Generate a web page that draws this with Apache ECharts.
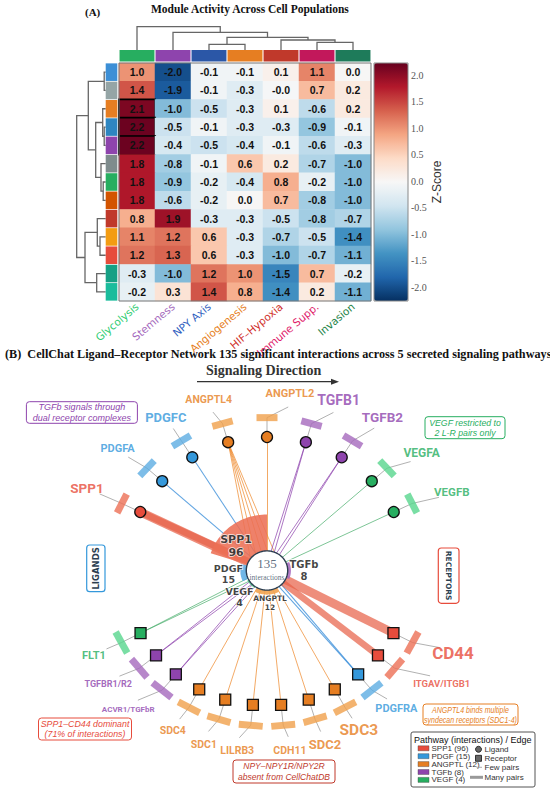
<!DOCTYPE html>
<html>
<head>
<meta charset="utf-8">
<script src="https://cdn.jsdelivr.net/npm/echarts@6.0.0/dist/echarts.min.js"></script>
<style>
html,body{margin:0;padding:0;background:#ffffff;}
#chart{width:550px;height:792px;}
</style>
</head>
<body>
<div id="chart"></div>
<script>
// ================= DATA =================
const modules = ['Glycolysis','Stemness','NPY Axis','Angiogenesis','HIF\u2013Hypoxia','Immune Supp.','Invasion'];
// z-scores, one row per cell population (top to bottom)
const zScores = [
  [ 1.0,-2.0,-0.1,-0.1, 0.1, 1.1, 0.0],
  [ 1.4,-1.9,-0.1,-0.3,-0.04,0.7, 0.2],
  [ 2.1,-1.0,-0.5,-0.3, 0.1,-0.6, 0.2],
  [ 2.2,-0.5,-0.1,-0.3,-0.3,-0.9,-0.1],
  [ 2.2,-0.4,-0.5,-0.4,-0.1,-0.6,-0.3],
  [ 1.8,-0.8,-0.1, 0.6, 0.2,-0.7,-1.0],
  [ 1.8,-0.9,-0.2,-0.4, 0.8,-0.2,-1.0],
  [ 1.8,-0.6,-0.2, 0.0, 0.7,-0.8,-1.0],
  [ 0.8, 1.9,-0.3,-0.3,-0.5,-0.8,-0.7],
  [ 1.1, 1.2, 0.6,-0.3,-0.7,-0.5,-1.4],
  [ 1.2, 1.3, 0.6,-0.3,-1.0,-0.7,-1.1],
  [-0.3,-1.0, 1.2, 1.0,-1.5, 0.7,-0.2],
  [-0.2, 0.3, 1.4, 0.8,-1.4, 0.2,-1.1]
];
// hierarchical clustering linkages: [childA, childB, height]
const colLinkage = [[2,3,5.7],[5,6,7.7],[4,8,10],[7,9,12.7],[1,10,17.7],[0,11,23.3]];
const rowLinkage = [[0,1,1.5],[3,4,1.5],[2,14,3],[6,7,2.5],[5,16,4.7],[15,17,10],[13,18,17.4],
                    [9,10,5.7],[8,20,8.4],[11,12,9],[21,22,20.7],[19,23,29]];
const zTicks = [-2.0,-1.5,-1.0,-0.5,0.0,0.5,1.0,1.5,2.0];

const pathways = ['SPP1','PDGF','ANGPTL','TGFb','VEGF'];
const pathwayInteractions = [96,15,12,8,4];
const totalInteractions = 135;
const ligands = ['SPP1','PDGFA','PDGFC','ANGPTL4','ANGPTL2','TGFB1','TGFB2','VEGFA','VEGFB'];
const ligandPathway = ['SPP1','PDGF','PDGF','ANGPTL','ANGPTL','TGFb','TGFb','VEGF','VEGF'];
const receptors = ['FLT1','TGFBR1/R2','ACVR1/TGFbR','SDC4','SDC1','LILRB3','CDH11','SDC2','SDC3','PDGFRA','ITGAV/ITGB1','CD44'];
const receptorPathway = ['VEGF','TGFb','TGFb','ANGPTL','ANGPTL','ANGPTL','ANGPTL','ANGPTL','ANGPTL','PDGF','SPP1','SPP1'];
const lrPairs = [
  ['SPP1','CD44',52],['SPP1','ITGAV/ITGB1',44],
  ['PDGFA','PDGFRA',8],['PDGFC','PDGFRA',7],
  ['ANGPTL4','SDC1',2],['ANGPTL4','SDC2',2],['ANGPTL4','SDC3',2],['ANGPTL4','SDC4',2],['ANGPTL4','CDH11',1],
  ['ANGPTL2','LILRB3',3],
  ['TGFB1','TGFBR1/R2',2],['TGFB1','ACVR1/TGFbR',2],['TGFB2','TGFBR1/R2',2],['TGFB2','ACVR1/TGFbR',2],
  ['VEGFA','FLT1',2],['VEGFB','FLT1',2]
];

// ================= STYLE / LAYOUT =================
const rdbu = ['#053061','#2166ac','#4393c3','#92c5de','#d1e5f0','#f7f7f7','#fddbc7','#f4a582','#d6604d','#b2182b','#67001f'];
const colBarColors = ['#27ae60','#8e44ad','#2b57a7','#e67e22','#c0392b','#c2185b','#1e7b5a'];
const colLabelColors = ['#2ecc71','#a569bd','#3060c0','#e67e22','#d0302a','#e0206a','#1e8449'];
const rowStripColors = ['#3c8fd6','#95a5a6','#e67e22','#2e86c1','#8e44ad','#7f8c8d','#27ae60','#d35400','#c0392b','#f39c12','#e74c3c','#16a085','#1abc9c'];
const pathColor = {SPP1:'#e74c3c', PDGF:'#3498db', ANGPTL:'#e67e22', TGFb:'#8e44ad', VEGF:'#27ae60'};
const edgeColor = {SPP1:'#e8624a', PDGF:'#3b8fd9', ANGPTL:'#ee8a2e', TGFb:'#8e44ad', VEGF:'#4caf6e'};
const wedgeColor = {SPP1:'#ec6f55', PDGF:'#5dade2', ANGPTL:'#f0a04b', TGFb:'#a569bd', VEGF:'#58d68d'};
const wedgeSpan = {SPP1:[90,162], PDGF:[165,205], VEGF:[208,236], ANGPTL:[242,298], TGFb:[338,382]};
const hubLabelPos = {SPP1:[140.4,0.285], PDGF:[185.2,0.275], TGFb:[0,0.262], VEGF:[225.8,0.28], ANGPTL:[275,0.245]};
const hubLabelSize = {SPP1:11, PDGF:9.5, TGFb:10, VEGF:9.5, ANGPTL:7.5};
const ligLabelPos = [[154.2,1.418],[139.2,1.40],[122,1.354],[107.9,1.347],[83,1.334],[68.3,1.374],[54.5,1.41],[38.7,1.405],[24.2,1.437]];
const recLabelPos = [[207.3,1.381],[217.1,1.412],[226.7,1.435],[240.9,1.374],[251,1.375],[261.1,1.368],[276.9,1.355],[287.5,1.365],[298.6,1.361],[311.5,1.385],[325.7,1.5],[334.8,1.458]];
const ligLabelSize = [13.5,11,13,10.5,11,14,13.5,12,11.5];
const recLabelSize = [11,9,8,10.5,10.5,10.5,10.5,13,15.5,11,9.5,17];
const HUB_R = 0.147, LIG_R = 1.0, REC_R = 1.012, LIG_DASH_R = 1.145, REC_DASH_R = 1.165;
const ligAngle = i => 154 - 16 * i;
const recAngle = i => 207.6 + 11.345 * i;
const labelFont = 'Roboto, "Liberation Sans", sans-serif';

function pt(a, r) { const t = a * Math.PI / 180; return [r * Math.cos(t), r * Math.sin(t)]; }

// ---------- heatmap ----------
const heatData = [];
zScores.forEach((row, r) => row.forEach((v, c) => {
  const item = { value: [c, r, v] };
  if (v > 2.05) item.itemStyle = { borderColor: '#000', borderWidth: 1.6 };
  heatData.push(item);
}));

// ---------- dendrograms ----------
function dendroLines(linkage, n, swap) {
  const pos = [], ht = [];
  for (let i = 0; i < n; i++) { pos[i] = i + 0.5; ht[i] = 0; }
  const out = [];
  linkage.forEach((l, k) => {
    const [a, b, h] = l; const id = n + k;
    pos[id] = (pos[a] + pos[b]) / 2; ht[id] = h;
    let pts = [[pos[a], ht[a]], [pos[a], h], [pos[b], h], [pos[b], ht[b]]];
    if (swap) pts = pts.map(p => [p[1], p[0]]);
    out.push({ coords: pts });
  });
  return out;
}

// ---------- network ----------
const nodePoint = {}, nodePath = {};
ligands.forEach((n, i) => { nodePoint[n] = pt(ligAngle(i), LIG_R); nodePath[n] = ligandPathway[i]; });
receptors.forEach((n, i) => { nodePoint[n] = pt(recAngle(i), REC_R); nodePath[n] = receptorPathway[i]; });

const widthOf = c => 0.9 + 0.0029 * c * c;
const edgeData = [];
function addEdges(nodeName, list) {
  const n = list.length;
  const p = nodePoint[nodeName];
  const len = Math.hypot(p[0], p[1]);
  const dir = [-p[0] / len, -p[1] / len];
  const perp = [-dir[1], dir[0]];
  const maxW = Math.max(...list.map(e => e[2]));
  const sp = maxW > 20 ? 0.008 : (n > 2 ? 0.05 : 0.028);
  list.forEach((e, k) => {
    const off = (k - (n - 1) / 2) * sp;
    const target = [perp[0] * off, perp[1] * off];
    const path = nodePath[e[0]];
    const w = widthOf(e[2]);
    edgeData.push({ coords: [p, target], lineStyle: { width: w, color: edgeColor[path], opacity: w > 3 ? 0.72 : 0.8 } });
  });
}
ligands.forEach(l => addEdges(l, lrPairs.filter(p => p[0] === l)));
receptors.forEach(r => addEdges(r, lrPairs.filter(p => p[1] === r)));

const dashItems = [];
ligands.forEach((n, i) => dashItems.push({ ang: ligAngle(i), r: LIG_DASH_R, len: 21, thick: 7, color: wedgeColor[ligandPathway[i]] }));
receptors.forEach((n, i) => dashItems.push({ ang: recAngle(i), r: REC_DASH_R, len: 24, thick: 7, color: wedgeColor[receptorPathway[i]] }));

const connectorData = [];
ligands.forEach((n, i) => connectorData.push({ coords: [nodePoint[n], pt(ligAngle(i), LIG_DASH_R), pt(ligLabelPos[i][0], ligLabelPos[i][1] - 0.1)] }));
receptors.forEach((n, i) => connectorData.push({ coords: [nodePoint[n], pt(recAngle(i), REC_DASH_R), pt(recLabelPos[i][0], recLabelPos[i][1] - 0.1)] }));

const wedgeItems = pathways.map((p, i) => ({
  a0: wedgeSpan[p][0], a1: wedgeSpan[p][1], r0: HUB_R, r1: HUB_R + 0.00284 * pathwayInteractions[i],
  color: wedgeColor[p]
}));

const nodeData = [];
ligands.forEach((n, i) => nodeData.push({ value: nodePoint[n], symbol: 'circle', itemStyle: { color: pathColor[ligandPathway[i]] } }));
receptors.forEach((n, i) => nodeData.push({ value: nodePoint[n], symbol: 'rect', itemStyle: { color: pathColor[receptorPathway[i]] } }));

const nodeLabelData = [];
ligands.forEach((n, i) => nodeLabelData.push({ value: pt(ligLabelPos[i][0], ligLabelPos[i][1]), name: n,
  label: { fontSize: ligLabelSize[i], color: pathColor[ligandPathway[i]] } }));
receptors.forEach((n, i) => nodeLabelData.push({ value: pt(recLabelPos[i][0], recLabelPos[i][1]), name: n,
  label: { fontSize: recLabelSize[i], color: pathColor[receptorPathway[i]] } }));

// hub labels: pathway name and interaction count as two texts
const hubNameData = [], hubCountData = [];
pathways.forEach((p, i) => {
  const base = pt(hubLabelPos[p][0], hubLabelPos[p][1]);
  const s = hubLabelSize[p];
  const dy = (s * 0.58) / 133.5;
  hubNameData.push({ value: [base[0], base[1] + dy], name: p, label: { fontSize: s } });
  hubCountData.push({ value: [base[0], base[1] - dy], name: String(pathwayInteractions[i]), label: { fontSize: s } });
});

// ================= CHART =================
const chart = echarts.init(document.getElementById('chart'), null, { renderer: 'svg', width: 550, height: 792 });

function noteBox(x, y, w, h, lines, color, sx) {
  return { type: 'group', children: [
    { type: 'rect', z: 50, shape: { x: x, y: y, width: w, height: h, r: 3 }, style: { fill: '#fff', stroke: color, lineWidth: 1 } },
    { type: 'text', z: 51, x: x + w / 2, y: y + h / 2, scaleX: sx || 1, style: { text: lines.join('\n'), align: 'center', verticalAlign: 'middle',
      fill: color, fontSize: 9.5, fontStyle: 'italic', fontFamily: '"Liberation Sans", Arial, sans-serif', lineHeight: 10.5 } }
  ] };
}
function vBox(x, y, w, h, text, border, rot, fs) {
  return { type: 'group', children: [
    { type: 'rect', z: 50, shape: { x: x, y: y, width: w, height: h, r: 3 }, style: { fill: '#fff', stroke: border, lineWidth: 1.2 } },
    { type: 'text', z: 51, x: x + w / 2, y: y + h / 2, rotation: rot, style: { text: text, align: 'center', verticalAlign: 'middle',
      fill: '#2c3e50', fontSize: fs, fontWeight: 'bold', fontFamily: '"DejaVu Sans", sans-serif' } }
  ] };
}
const legendItems = pathways.map((p, i) => p + ' (' + pathwayInteractions[i] + ')');
const legendFont = '"Liberation Sans", Arial, sans-serif';
const legendChildren = [
  { type: 'rect', z: 50, shape: { x: 411, y: 732, width: 124, height: 55, r: 2 }, style: { fill: '#fff', stroke: '#555', lineWidth: 1 } },
  { type: 'text', z: 51, x: 414, y: 740, style: { text: 'Pathway (interactions) / Edge', verticalAlign: 'middle', fill: '#111', fontSize: 9, fontFamily: legendFont } }
];
legendItems.forEach((t, i) => {
  const y = 748.3 + i * 7.9;
  legendChildren.push({ type: 'rect', z: 51, shape: { x: 418, y: y - 2.5, width: 11, height: 5 }, style: { fill: pathColor[pathways[i]], stroke: '#444', lineWidth: 0.4 } });
  legendChildren.push({ type: 'text', z: 51, x: 431.5, y: y, style: { text: t, verticalAlign: 'middle', fill: '#333', fontSize: 8, fontFamily: legendFont } });
});
legendChildren.push(
  { type: 'circle', z: 51, shape: { cx: 478.5, cy: 749.3, r: 3 }, style: { fill: '#666', stroke: '#111', lineWidth: 0.8 } },
  { type: 'text', z: 51, x: 484.5, y: 749.3, style: { text: 'Ligand', verticalAlign: 'middle', fill: '#333', fontSize: 8, fontFamily: legendFont } },
  { type: 'rect', z: 51, shape: { x: 475.5, y: 755.3, width: 6, height: 6 }, style: { fill: '#666', stroke: '#111', lineWidth: 0.8 } },
  { type: 'text', z: 51, x: 484.5, y: 758.3, style: { text: 'Receptor', verticalAlign: 'middle', fill: '#333', fontSize: 8, fontFamily: legendFont } },
  { type: 'line', z: 51, shape: { x1: 476.5, y1: 767.3, x2: 482, y2: 767.3 }, style: { stroke: '#999', lineWidth: 0.8 } },
  { type: 'text', z: 51, x: 484.5, y: 767.3, style: { text: 'Few pairs', verticalAlign: 'middle', fill: '#333', fontSize: 8, fontFamily: legendFont } },
  { type: 'line', z: 51, shape: { x1: 470, y1: 777.3, x2: 483, y2: 777.3 }, style: { stroke: '#999', lineWidth: 3 } },
  { type: 'text', z: 51, x: 484.5, y: 777.3, style: { text: 'Many pairs', verticalAlign: 'middle', fill: '#333', fontSize: 8, fontFamily: legendFont } }
);

const serif = '"Liberation Serif", "Times New Roman", serif';
const option = {
  animation: false,
  backgroundColor: '#ffffff',
  title: [
    { text: '(A)', left: 85, top: 6, padding: 0, textStyle: { fontFamily: serif, fontWeight: 'bold', fontSize: 11, color: '#111' } },
    { text: 'Module Activity Across Cell Populations', left: 151, top: 3, padding: 0, textStyle: { fontFamily: serif, fontWeight: 'bold', fontSize: 11.5, color: '#111' } },
    { text: '(B)  CellChat Ligand\u2013Receptor Network 135 significant interactions across 5 secreted signaling pathways', left: 5, top: 348, padding: 0,
      textStyle: { fontFamily: serif, fontWeight: 'bold', fontSize: 12.2, color: '#111' } },
    { text: 'Signaling Direction', left: 206, top: 363, padding: 0, textStyle: { fontFamily: serif, fontWeight: 'bold', fontSize: 14, color: '#333' } }
  ],
  grid: [
    { left: 119, top: 63, width: 252, height: 238 },          // 0 heatmap
    { left: 119, top: 50, width: 252, height: 11.5 },         // 1 column strip
    { left: 105.7, top: 63, width: 11.6, height: 238 },       // 2 row strip
    { left: 119, top: 26, width: 252, height: 24 },           // 3 column dendrogram
    { left: 76, top: 63, width: 29.7, height: 238 },          // 4 row dendrogram
    { left: 374, top: 63, width: 34, height: 238 },           // 5 colorbar axis
    { left: 13.2, top: 356.9, width: 507.6, height: 427.2 }   // 6 network
  ],
  xAxis: [
    { gridIndex: 0, type: 'category', data: modules, axisLine: { show: false }, axisTick: { show: false }, splitLine: { show: false },
      axisLabel: { interval: 0, rotate: 40, margin: 4, fontSize: 10.5, fontFamily: '"DejaVu Sans", sans-serif', color: (v, i) => colLabelColors[i] } },
    { gridIndex: 1, type: 'category', data: modules, show: false },
    { gridIndex: 2, type: 'value', min: 0, max: 1, show: false },
    { gridIndex: 3, type: 'value', min: 0, max: 7, show: false },
    { gridIndex: 4, type: 'value', min: 0, max: 29.7, inverse: true, show: false },
    { gridIndex: 5, type: 'value', min: 0, max: 1, show: false },
    { gridIndex: 6, type: 'value', min: -1.8, max: 1.8, show: false }
  ],
  yAxis: [
    { gridIndex: 0, type: 'category', data: zScores.map((r, i) => String(i)), inverse: true, show: false },
    { gridIndex: 1, type: 'value', min: 0, max: 1, show: false },
    { gridIndex: 2, type: 'category', data: zScores.map((r, i) => String(i)), inverse: true, show: false },
    { gridIndex: 3, type: 'value', min: 0, max: 24, show: false },
    { gridIndex: 4, type: 'value', min: 0, max: 13, inverse: true, show: false },
    { gridIndex: 5, type: 'value', min: -2.26, max: 2.23, position: 'right', splitLine: { show: false },
      axisLine: { show: false },
      axisTick: { show: true, customValues: zTicks, length: 3, lineStyle: { color: '#666' } },
      axisLabel: { customValues: zTicks, formatter: v => v.toFixed(1), fontFamily: serif, fontSize: 10, color: '#555', margin: 3 },
      name: 'Z-Score', nameLocation: 'middle', nameRotate: 90, nameGap: 16,
      nameTextStyle: { fontFamily: '"Liberation Sans", Arial, sans-serif', fontSize: 12, color: '#333' } },
    { gridIndex: 6, type: 'value', min: -1.6, max: 1.6, show: false }
  ],
  visualMap: [{
    type: 'continuous', seriesIndex: 0, min: -2.26, max: 2.23, calculable: false, show: true, orient: 'vertical',
    left: 374, top: 63, itemWidth: 34, itemHeight: 238, padding: 0, hoverLink: false,
    inRange: { color: rdbu }
  }],
  series: [
    { type: 'heatmap', xAxisIndex: 0, yAxisIndex: 0, data: heatData, silent: true,
      label: { show: true, formatter: p => p.value[2].toFixed(1), fontSize: 10.5, fontWeight: 'bold', color: '#111', fontFamily: '"Liberation Sans", Arial, sans-serif' } },
    { type: 'bar', xAxisIndex: 1, yAxisIndex: 1, silent: true, barWidth: '97%',
      data: colBarColors.map(c => ({ value: 1, itemStyle: { color: c } })) },
    { type: 'bar', xAxisIndex: 2, yAxisIndex: 2, silent: true, barWidth: '96%',
      data: rowStripColors.map(c => ({ value: 1, itemStyle: { color: c } })) },
    { type: 'lines', coordinateSystem: 'cartesian2d', xAxisIndex: 3, yAxisIndex: 3, polyline: true, silent: true,
      lineStyle: { color: '#666', width: 1.3, opacity: 1 }, data: dendroLines(colLinkage, 7, false) },
    { type: 'lines', coordinateSystem: 'cartesian2d', xAxisIndex: 4, yAxisIndex: 4, polyline: true, silent: true,
      lineStyle: { color: '#666', width: 1.3, opacity: 1 }, data: dendroLines(rowLinkage, 13, true) },
    // network
    { type: 'lines', coordinateSystem: 'cartesian2d', xAxisIndex: 6, yAxisIndex: 6, silent: true, z: 1,
      lineStyle: { cap: 'butt' }, data: edgeData },
    { type: 'lines', coordinateSystem: 'cartesian2d', xAxisIndex: 6, yAxisIndex: 6, polyline: true, silent: true, z: 1,
      lineStyle: { color: '#a8a8a8', width: 0.9, opacity: 1 }, data: connectorData },
    { type: 'custom', coordinateSystem: 'cartesian2d', xAxisIndex: 6, yAxisIndex: 6, silent: true, z: 2,
      data: dashItems.map((d, i) => [pt(d.ang, d.r)[0], pt(d.ang, d.r)[1], i]),
      renderItem: function (params, api) {
        const d = dashItems[params.dataIndex];
        const c = api.coord(pt(d.ang, d.r));
        const c1 = api.coord(pt(d.ang + 1, d.r)), c0 = api.coord(pt(d.ang - 1, d.r));
        let tx = c1[0] - c0[0], ty = c1[1] - c0[1]; const L = Math.hypot(tx, ty); tx /= L; ty /= L;
        const nx = -ty, ny = tx, hl = d.len / 2, ht = d.thick / 2;
        const pts = [[c[0] - tx * hl - nx * ht, c[1] - ty * hl - ny * ht], [c[0] + tx * hl - nx * ht, c[1] + ty * hl - ny * ht],
                     [c[0] + tx * hl + nx * ht, c[1] + ty * hl + ny * ht], [c[0] - tx * hl + nx * ht, c[1] - ty * hl + ny * ht]];
        return { type: 'polygon', shape: { points: pts }, style: { fill: d.color, opacity: 0.8 } };
      } },
    { type: 'custom', coordinateSystem: 'cartesian2d', xAxisIndex: 6, yAxisIndex: 6, silent: true, z: 3,
      data: wedgeItems.map((w, i) => [0, 0, i]),
      renderItem: function (params, api) {
        const w = wedgeItems[params.dataIndex];
        const pts = [], steps = 30;
        for (let i = 0; i <= steps; i++) pts.push(api.coord(pt(w.a0 + (w.a1 - w.a0) * i / steps, w.r1)));
        for (let i = steps; i >= 0; i--) pts.push(api.coord(pt(w.a0 + (w.a1 - w.a0) * i / steps, w.r0)));
        return { type: 'polygon', shape: { points: pts }, style: { fill: w.color, opacity: 0.88 } };
      } },
    { type: 'custom', coordinateSystem: 'cartesian2d', xAxisIndex: 6, yAxisIndex: 6, silent: true, z: 4,
      data: [[0, 0, totalInteractions]],
      renderItem: function (params, api) {
        const pts = [];
        for (let i = 0; i < 90; i++) pts.push(api.coord(pt(i * 4, HUB_R)));
        return { type: 'polygon', shape: { points: pts }, style: { fill: '#ffffff', stroke: '#2c3e50', lineWidth: 1.4 } };
      } },
    { type: 'scatter', xAxisIndex: 6, yAxisIndex: 6, silent: true, z: 5, symbolSize: 0,
      data: [{ value: [0, 0.05], name: String(totalInteractions), label: { fontSize: 13, fontFamily: serif, color: '#34495e' } },
             { value: [0, -0.052], name: 'interactions', label: { fontSize: 7.5, fontFamily: serif, color: '#34495e' } }],
      label: { show: true, position: 'inside', formatter: p => p.name } },
    { type: 'scatter', xAxisIndex: 6, yAxisIndex: 6, silent: true, z: 5, symbolSize: 0, data: hubNameData,
      label: { show: true, position: 'inside', formatter: p => p.name, fontWeight: 'bold', color: '#111',
        fontFamily: '"DejaVu Sans", sans-serif', textBorderColor: '#fff', textBorderWidth: 1.5, lineHeight: 9 } },
    { type: 'scatter', xAxisIndex: 6, yAxisIndex: 6, silent: true, z: 5, symbolSize: 0, data: hubCountData,
      label: { show: true, position: 'inside', formatter: p => p.name, fontWeight: 'bold', color: '#111',
        fontFamily: '"DejaVu Sans", sans-serif', textBorderColor: '#fff', textBorderWidth: 1.5, lineHeight: 9 } },
    { type: 'scatter', xAxisIndex: 6, yAxisIndex: 6, silent: true, z: 6, symbolSize: 11, data: nodeData,
      itemStyle: { borderColor: '#111', borderWidth: 1.3, opacity: 1 } },
    { type: 'scatter', xAxisIndex: 6, yAxisIndex: 6, silent: true, z: 6, symbolSize: 0, data: nodeLabelData,
      label: { show: true, position: 'inside', formatter: p => p.name, fontWeight: 'bold', fontFamily: labelFont } }
  ],
  graphic: [
    { type: 'rect', z: 100, silent: true, shape: { x: 119, y: 63, width: 252, height: 238 }, style: { fill: 'none', stroke: '#777', lineWidth: 1 } },
    { type: 'rect', z: 100, silent: true, shape: { x: 374, y: 63, width: 34, height: 238 }, style: { fill: 'none', stroke: '#888', lineWidth: 1 } },
    { type: 'line', z: 50, shape: { x1: 197, y1: 381.7, x2: 333, y2: 381.7 }, style: { stroke: '#333', lineWidth: 1.2 } },
    { type: 'polygon', z: 50, shape: { points: [[339, 381.7], [331, 378.7], [331, 384.7]] }, style: { fill: '#333' } },
    noteBox(26.4, 401.7, 111, 21.6, ['TGFb signals through', 'dual receptor complexes'], '#8e44ad', 0.95),
    noteBox(425, 416.7, 80, 22, ['VEGF restricted to', '2 L-R pairs only'], '#27ae60', 0.92),
    noteBox(38.5, 718, 93, 22, ['SPP1\u2013CD44 dominant', '(71% of interactions)'], '#e74c3c', 0.93),
    noteBox(233, 760, 102, 23, ['NPY\u2013NPY1R/NPY2R', 'absent from CellChatDB'], '#c0392b', 0.9),
    noteBox(423, 704, 95, 21, ['ANGPTL4 binds multiple', 'syndecan receptors (SDC1-4)'], '#e67e22', 0.74),
    vBox(86.7, 545, 18.3, 46.7, 'LIGANDS', '#3498db', Math.PI / 2, 8.5),
    vBox(438.3, 548, 20.7, 55.3, 'RECEPTORS', '#e74c3c', -Math.PI / 2, 7.5),
    { type: 'group', children: legendChildren }
  ]
};
chart.setOption(option);
</script>
</body>
</html>
